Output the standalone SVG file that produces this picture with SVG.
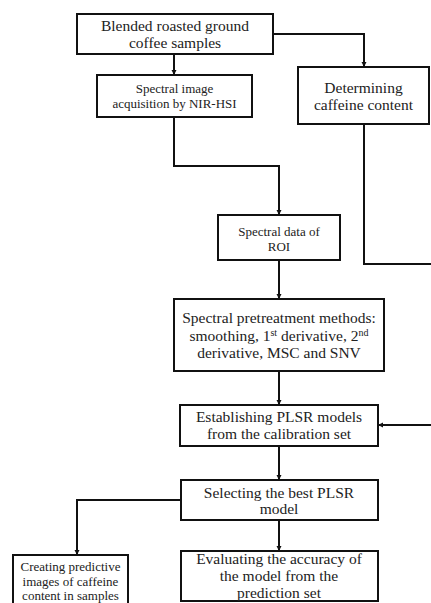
<svg xmlns="http://www.w3.org/2000/svg" width="431" height="603" viewBox="0 0 431 603">
<defs>
<marker id="ah" markerWidth="6" markerHeight="6" refX="5" refY="3" orient="auto" markerUnits="userSpaceOnUse">
<path d="M0,0.5 L5,3 L0,5.5 Z" fill="#111"/>
</marker>
<style>
.box{fill:#fff;stroke:#111;stroke-width:2}
.c{fill:none;stroke:#111;stroke-width:2;marker-end:url(#ah)}
.n{fill:none;stroke:#111;stroke-width:2}
text{font-family:'Liberation Serif','Times New Roman','DejaVu Serif',serif;fill:#222;text-anchor:middle}
.l{font-size:15.5px}
.s{font-size:13px}
</style>
</defs>
<rect width="431" height="603" fill="#fff"/>
<g id="connectors">
<path class="c" d="M174,54 V75"/>
<path class="c" d="M273,34 H364 V67"/>
<path class="n" d="M364,124 V264 H432"/>
<path class="c" d="M432,425 H378"/>
<path class="c" d="M174,117 V166 H279 V215"/>
<path class="c" d="M279,260 V299"/>
<path class="c" d="M279,371 V405"/>
<path class="c" d="M279,446 V480"/>
<path class="c" d="M181,500 H77 V555"/>
<path class="c" d="M279,520 V551"/>
</g>
<g font-family="Liberation Serif, serif">
<g id="n1">
<rect class="box" x="77" y="14" width="196" height="40"/>
<text class="l" x="175" y="31">Blended roasted ground</text>
<text class="l" x="175" y="48">coffee samples</text>
</g>
<g id="n2">
<rect class="box" x="97" y="75" width="155" height="42"/>
<text class="s" x="174.5" y="93">Spectral  image</text>
<text class="s" x="174.5" y="108">acquisition by NIR-HSI</text>
</g>
<g id="n3">
<rect class="box" x="298" y="67" width="131" height="57"/>
<text class="l" x="363.5" y="93">Determining</text>
<text class="l" x="363.5" y="110">caffeine content</text>
</g>
<g id="n4">
<rect class="box" x="218" y="215" width="122" height="45"/>
<text class="s" x="279" y="236">Spectral  data of</text>
<text class="s" x="279" y="251">ROI</text>
</g>
<g id="n5">
<rect class="box" x="174" y="299" width="210" height="72"/>
<text class="l" x="279" y="323">Spectral pretreatment methods:</text>
<text class="l" x="279" y="341">smoothing, 1<tspan font-size="10" dy="-5">st</tspan><tspan dy="5"> derivative, 2</tspan><tspan font-size="10" dy="-5">nd</tspan></text>
<text class="l" x="279" y="358">derivative, MSC  and SNV</text>
</g>
<g id="n6">
<rect class="box" x="180" y="405" width="198" height="41"/>
<text class="l" x="279" y="422">Establishing  PLSR models</text>
<text class="l" x="279" y="439">from the calibration set</text>
</g>
<g id="n7">
<rect class="box" x="181" y="480" width="197" height="40"/>
<text class="l" x="279" y="498">Selecting the best PLSR</text>
<text class="l" x="279" y="514">model</text>
</g>
<g id="n8">
<rect class="box" x="13" y="555" width="115" height="52"/>
<text class="s" x="70.5" y="571">Creating predictive</text>
<text class="s" x="70.5" y="586">images of caffeine</text>
<text class="s" x="70.5" y="600">content in samples</text>
</g>
<g id="n9">
<rect class="box" x="181" y="551" width="197" height="50"/>
<text class="l" x="279" y="564">Evaluating the accuracy of</text>
<text class="l" x="279" y="581">the model from the</text>
<text class="l" x="279" y="598">prediction set</text>
</g>
</g>
</svg>
